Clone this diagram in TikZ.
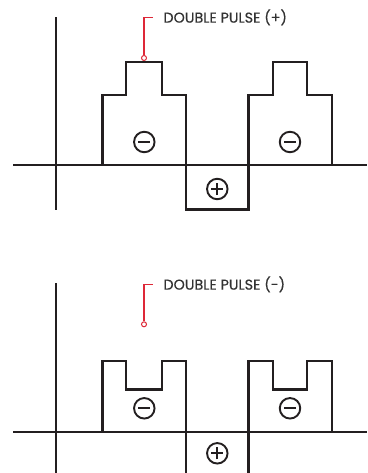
\documentclass[tikz,border=0pt]{standalone}
\usepackage{fontspec}
\setmainfont{Poppins}[FakeBold=0.4]
\usepackage{tikz}
\definecolor{ink}{RGB}{35, 31, 32}
\definecolor{labelgray}{RGB}{50, 50, 50}
\definecolor{leader}{RGB}{222, 40, 56}

\begin{document}
\begin{tikzpicture}[
    x=1pt, y=-1pt,
    axis/.style={line width=2.4pt, color=ink},
    wave/.style={line width=2.4pt, color=ink, line join=miter},
    sign/.style={circle, draw=ink, line width=1.9pt, minimum size=20.5pt, inner sep=0pt},
    minus/.style={sign, path picture={\draw[line width=1.9pt, ink] ([xshift=-6pt]path picture bounding box.center) -- ([xshift=6pt]path picture bounding box.center);}},
    plus/.style={sign, path picture={\draw[line width=1.9pt, ink] ([xshift=-6pt]path picture bounding box.center) -- ([xshift=6pt]path picture bounding box.center) ([yshift=-6pt]path picture bounding box.center) -- ([yshift=6pt]path picture bounding box.center);}},
    dot/.style={circle, draw=leader, fill=white, line width=1pt, minimum size=5pt, inner sep=0pt},
    tag/.style={anchor=west, inner sep=0pt, font=\fontsize{14.3}{15}\selectfont, text=labelgray},
    leaderline/.style={line width=1.1pt, color=leader}
]
    \useasboundingbox (0,0) rectangle (367,473);

    % Double pulse (+)
    \draw [axis] (55.7,17.3) -- (55.7,210);
    \draw [axis] (13.3,165) -- (367,165);
    \draw [wave] (102.3,165) -- (102.3,95) -- (126,95) -- (126,62) -- (161.7,62) -- (161.7,95) -- (185.7,95)
        -- (185.7,209.3) -- (248.3,209.3) -- (248.3,95) -- (272.7,95) -- (272.7,62) -- (306.7,62)
        -- (306.7,95) -- (331.7,95) -- (331.7,165);
    \node [minus] (negA) at (144.3,142) {};
    \node [minus] (negB) at (290,142) {};
    \node [plus] (posA) at (217.3,189) {};
    \node [dot] (dotA) at (144,58) {};
    \node [tag] (tagA) at (163.3,17.3) {DOUBLE PULSE (+)};
    \draw [leaderline] (dotA) |- ([xshift=-10pt]tagA.west);

    % Double pulse (-)
    \draw [axis] (55.7,283.3) -- (55.7,473);
    \draw [axis] (13.3,431.7) -- (367,431.7);
    \draw [wave] (102.3,431.7) -- (102.3,361) -- (126,361) -- (126,389.3) -- (161.7,389.3) -- (161.7,361)
        -- (185.7,361) -- (185.7,473);
    \draw [wave] (248.3,473) -- (248.3,361) -- (272.7,361) -- (272.7,389.3) -- (306.7,389.3)
        -- (306.7,361) -- (331.7,361) -- (331.7,431.7);
    \node [minus] (negC) at (144.3,408.3) {};
    \node [minus] (negD) at (290,408.3) {};
    \node [plus] (posB) at (217.3,453.3) {};
    \node [dot] (dotB) at (144,324.3) {};
    \node [tag] (tagB) at (163.3,284.3) {DOUBLE PULSE (-)};
    \draw [leaderline] (dotB) |- ([xshift=-10pt]tagB.west);

\end{tikzpicture}
\end{document}
